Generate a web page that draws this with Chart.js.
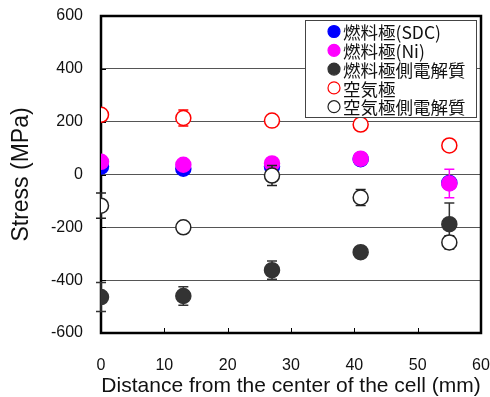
<!DOCTYPE html>
<html lang="ja">
<head>
  <meta charset="UTF-8" />
  <title>Stress vs distance</title>
  <script src="https://cdn.jsdelivr.net/npm/chart.js"></script>
  <style>
    html, body { margin: 0; padding: 0; background: #fff; }
    #wrap { width: 490px; height: 397px; }
  </style>
</head>
<body>
  <div id="wrap"><canvas id="stressChart" width="490" height="397"></canvas></div>

  <script>
    // data
    const distance = [0, 13, 27, 41, 55];
    const seriesNames = ['燃料極(SDC)', '燃料極(Ni)', '燃料極側電解質', '空気極', '空気極側電解質'];
    const sdcStress = [30, 22, 30, 58, -32];
    const niStress = [48, 37, 42, 60, -34];
    const niErr = [0, 0, 0, 0, 54];
    const fuelElecStress = [-464, -460, -362, -294, -188];
    const fuelElecErr = [55, 35, 35, 20, 80];
    const airStress = [226, 214, 204, 189, 110];
    const airErr = [0, 30, 10, 15, 15];
    const airElecStress = [-118, -200, -4, -87, -257];
    const airElecErr = [48, 0, 38, 30, 25];
    const yTicks = [-600, -400, -200, 0, 200, 400, 600];

    const latin = '"Liberation Sans", Arial, sans-serif';
    const jp = '"Noto Sans CJK JP", sans-serif';

    function pts(ys) {
      return distance.map((x, i) => ({ x: x, y: ys[i] }));
    }

    const seriesStyle = [
      { fill: '#0000ff', line: '#0000ff', order: 5 },
      { fill: '#ff00ff', line: '#ff00ff', order: 4 },
      { fill: '#333333', line: '#333333', order: 3 },
      { fill: '#ffffff', line: '#ff0000', order: 2 },
      { fill: '#ffffff', line: '#222222', order: 1 }
    ];
    const values = [sdcStress, niStress, fuelElecStress, airStress, airElecStress];
    const errors = [null, niErr, fuelElecErr, airErr, airElecErr];

    const datasets = values.map((v, i) => ({
      label: seriesNames[i],
      data: pts(v),
      errors: errors[i],
      backgroundColor: seriesStyle[i].fill,
      borderColor: seriesStyle[i].line,
      pointRadius: 7.5,
      pointBorderWidth: 1.5,
      order: seriesStyle[i].order
    }));

    // error bars, frame, inner ticks and legend
    const extras = {
      id: 'extras',
      beforeDatasetDraw(chart, args) {
        const ds = chart.data.datasets[args.index];
        if (!ds.errors) return;
        const ctx = chart.ctx;
        const xs = chart.scales.x, ys = chart.scales.y;
        ctx.save();
        ctx.strokeStyle = ds.borderColor === '#ffffff' ? '#222' : ds.borderColor;
        ctx.lineWidth = 1.5;
        ds.data.forEach((p, i) => {
          const e = ds.errors[i];
          if (!e) return;
          const px = xs.getPixelForValue(p.x);
          const y1 = ys.getPixelForValue(p.y + e);
          const y2 = ys.getPixelForValue(p.y - e);
          ctx.beginPath();
          ctx.moveTo(px, y1); ctx.lineTo(px, y2);
          ctx.moveTo(px - 5, y1); ctx.lineTo(px + 5, y1);
          ctx.moveTo(px - 5, y2); ctx.lineTo(px + 5, y2);
          ctx.stroke();
        });
        ctx.restore();
      },
      beforeDatasetsDraw(chart) {
        const ctx = chart.ctx;
        const a = chart.chartArea;
        const xs = chart.scales.x, ys = chart.scales.y;
        ctx.save();
        ctx.strokeStyle = '#000';
        ctx.lineWidth = 1;
        xs.ticks.forEach(t => {
          const px = Math.round(xs.getPixelForValue(t.value)) + 0.5;
          ctx.beginPath();
          ctx.moveTo(px, a.bottom);
          ctx.lineTo(px, a.bottom - 5);
          ctx.stroke();
        });
        ys.ticks.forEach(t => {
          const py = Math.round(ys.getPixelForValue(t.value)) + 0.5;
          ctx.beginPath();
          ctx.moveTo(a.left, py);
          ctx.lineTo(a.left + 5, py);
          ctx.stroke();
        });
        ctx.lineWidth = 2.5;
        ctx.strokeRect(a.left, a.top, a.right - a.left, a.bottom - a.top);
        ctx.restore();
      },
      afterDraw(chart) {
        const ctx = chart.ctx;
        const bx = 305, by = 20, bw = 171, bh = 97;
        ctx.save();
        ctx.fillStyle = '#fff';
        ctx.fillRect(bx, by, bw, bh);
        ctx.strokeStyle = '#444';
        ctx.lineWidth = 1;
        ctx.strokeRect(bx + 0.5, by + 0.5, bw, bh);
        ctx.font = '17.5px ' + jp;
        ctx.textBaseline = 'middle';
        chart.data.datasets.forEach((ds, i) => {
          const cy = by + 11.5 + i * 18.8;
          ctx.beginPath();
          ctx.arc(334, cy, 6, 0, Math.PI * 2);
          ctx.fillStyle = ds.backgroundColor;
          ctx.fill();
          ctx.strokeStyle = ds.borderColor;
          ctx.lineWidth = 1.2;
          ctx.stroke();
          ctx.fillStyle = '#111';
          ctx.fillText(ds.label, 343, cy + 1);
        });
        ctx.restore();
      }
    };

    new Chart(document.getElementById('stressChart'), {
      type: 'scatter',
      data: { datasets: datasets },
      plugins: [extras],
      options: {
        responsive: false,
        animation: false,
        layout: { padding: { top: 16, right: 0, left: 0, bottom: 0 } },
        plugins: { legend: { display: false }, tooltip: { enabled: false } },
        scales: {
          x: {
            type: 'linear',
            min: 0, max: 60,
            ticks: { stepSize: 10, color: '#111', font: { family: latin, size: 16 }, padding: 15 },
            grid: { display: false },
            border: { display: false },
            title: { display: true, text: 'Distance from the center of the cell (mm)', color: '#111',
                     font: { family: latin, size: 21 }, padding: { top: 0, bottom: -2 } },
            afterFit(s) { s.height = 64; s.paddingRight = 9; s.paddingLeft = 0; }
          },
          y: {
            min: -600, max: 600,
            afterBuildTicks(s) { s.ticks = yTicks.map(v => ({ value: v })); },
            ticks: { color: '#111', font: { family: latin, size: 16 }, padding: 18 },
            grid: {
              color: c => (Math.abs(c.tick.value) === 600 ? 'rgba(0,0,0,0)' : '#555'),
              lineWidth: 1,
              drawTicks: false
            },
            border: { display: false },
            title: { display: true, text: 'Stress (MPa)', color: '#111',
                     font: { family: latin, size: 23 }, padding: { bottom: 0, top: 8 } },
            afterFit(s) { s.width = 101; s.paddingTop = 0; s.paddingBottom = 0; }
          }
        }
      }
    });
  </script>
</body>
</html>
